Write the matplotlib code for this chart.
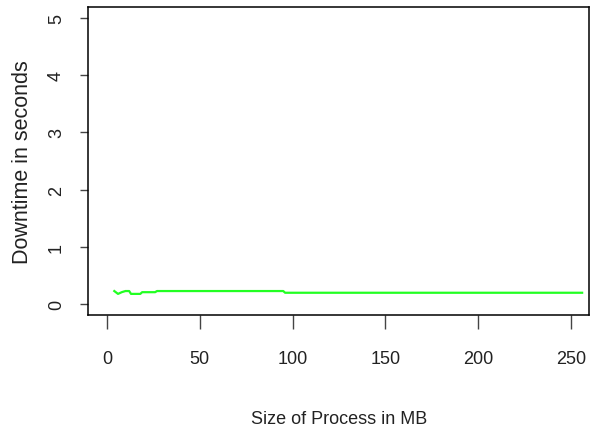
import matplotlib.pyplot as plt

# downtime vs process size
size_mb = [4, 6, 8, 10, 12, 13, 14, 18, 19, 26, 27, 95, 96, 256]
downtime_s = [0.22, 0.17, 0.20, 0.22, 0.22, 0.17, 0.17, 0.17, 0.20, 0.20,
              0.22, 0.22, 0.19, 0.19]
x_ticks = [0, 50, 100, 150, 200, 250]
y_ticks = [0, 1, 2, 3, 4, 5]

plt.rcParams['font.family'] = ['Liberation Sans', 'DejaVu Sans']

fig = plt.figure(figsize=(5.94, 4.27), dpi=100)
ax = fig.add_axes([88.5/594, 1 - 316/427, (589 - 88.5)/594, (316 - 8)/427])

ax.plot(size_mb, downtime_s, color='#22ff22', lw=1.6)

ax.set_xlim(-9.9, 259.7)
ax.set_ylim(-0.2, 5.2)
ax.set_xticks(x_ticks)
ax.set_yticks(y_ticks)

for s in ax.spines.values():
    s.set_linewidth(1.1)
    s.set_color('black')

ax.tick_params(axis='x', length=10, width=1, color='#444444', pad=15,
               labelsize=13, labelcolor='#222222')
ax.tick_params(axis='y', length=6, width=1, color='#444444', pad=11,
               labelsize=13, labelcolor='#222222')
for lab in ax.get_yticklabels():
    lab.set_rotation(90)
    lab.set_va('center')
    lab.set_ha('right')

ax.set_xlabel('Size of Process in MB', fontsize=13, color='#222222', labelpad=31)
ax.set_ylabel('Downtime in seconds', fontsize=15.5, color='#222222', labelpad=11)

fig.savefig('out.png', dpi=100)
